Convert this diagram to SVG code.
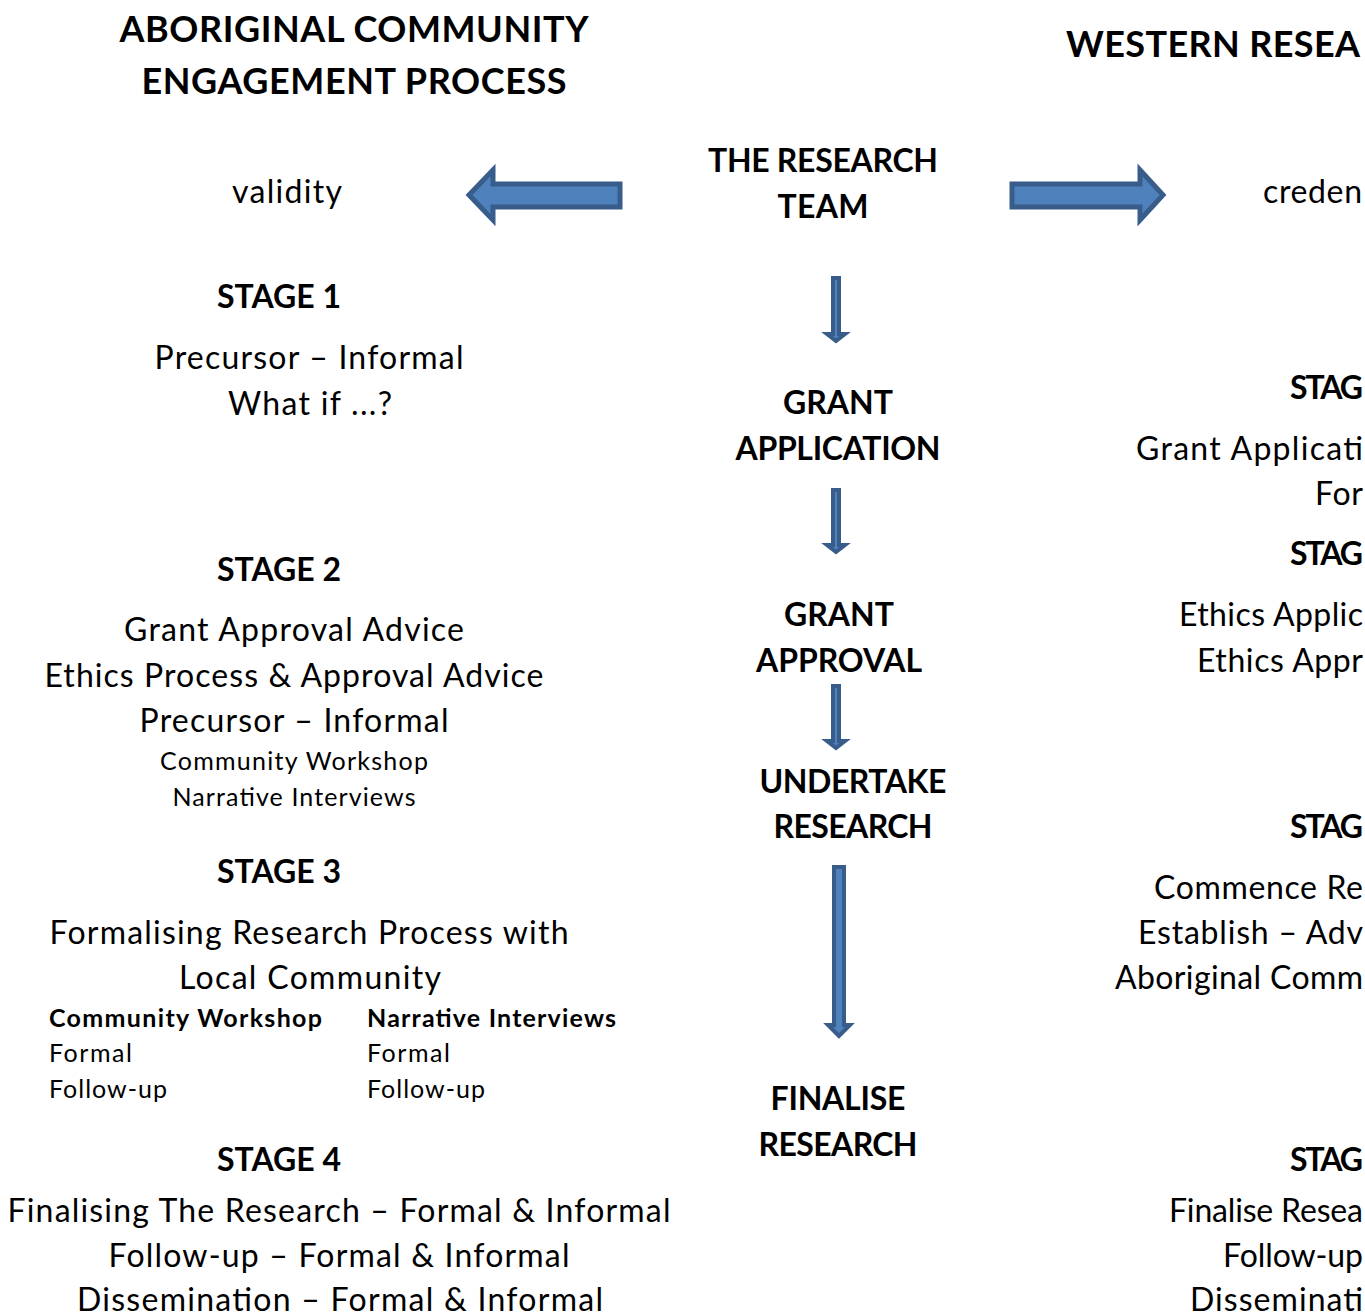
<svg xmlns="http://www.w3.org/2000/svg" width="1365" height="1316" viewBox="0 0 1365 1316">
<style>
text{font-family:Lato,"Open Sans","Liberation Sans",sans-serif;fill:#000}
.t{font-size:36px;font-weight:bold;text-anchor:middle}
.tl{font-size:36px;font-weight:bold}
.h{font-size:32px;font-weight:bold;text-anchor:middle}
.hl{font-size:32px;font-weight:bold}
.b{font-size:32px;text-anchor:middle}
.bl{font-size:32px}
.s{font-size:25px;text-anchor:middle}
.sl{font-size:25px}
.sb{font-size:25px;font-weight:bold}
.arr{fill:#4f81bd;stroke:#385d8a;stroke-width:5;stroke-linejoin:miter}
.arrs{fill:#4f81bd;stroke:#385d8a;stroke-width:4;stroke-linejoin:miter}
</style>
<rect width="1365" height="1316" fill="#fff"/>
<g id="connectors">
<path class="arr" d="M469,195 L493,170 L493,184 L620,184 L620,207 L493,207 L493,220 Z"/>
<path class="arr" d="M1163,195 L1140,170 L1140,184 L1012,184 L1012,207 L1140,207 L1140,220 Z"/>
<path class="arrs" d="M836,341 L827,334 L833,334 L833,278 L839,278 L839,334 L845,334 Z"/>
<path class="arrs" d="M836,552 L827,545 L833,545 L833,490 L839,490 L839,545 L845,545 Z"/>
<path class="arrs" d="M836,748 L827,741 L833,741 L833,686 L839,686 L839,741 L845,741 Z"/>
<path class="arrs" d="M839,1036 L828,1025 L834,1025 L834,867 L844,867 L844,1025 L850,1025 Z"/>
</g>
<g id="title-left">
<text class="t" x="354" y="42" textLength="469">ABORIGINAL COMMUNITY</text>
<text class="t" x="354" y="94" textLength="425">ENGAGEMENT PROCESS</text>
</g>
<g id="title-right">
<text class="tl" x="1066" y="57" textLength="294">WESTERN RESEA</text>
</g>
<g id="validity"><text class="b" x="287" y="203" textLength="110">validity</text></g>
<g id="creden"><text class="bl" x="1263" y="203" textLength="99">creden</text></g>
<g id="research-team">
<text class="h" x="823" y="172" textLength="230">THE RESEARCH</text>
<text class="h" x="823" y="218" textLength="91">TEAM</text>
</g>
<g id="grant-application">
<text class="h" x="838" y="414" textLength="110">GRANT</text>
<text class="h" x="838" y="460" textLength="205">APPLICATION</text>
</g>
<g id="grant-approval">
<text class="h" x="839" y="626" textLength="110">GRANT</text>
<text class="h" x="839" y="672" textLength="166">APPROVAL</text>
</g>
<g id="undertake-research">
<text class="h" x="853" y="793" textLength="187">UNDERTAKE</text>
<text class="h" x="853" y="838" textLength="159">RESEARCH</text>
</g>
<g id="finalise-research">
<text class="h" x="838" y="1110" textLength="135">FINALISE</text>
<text class="h" x="838" y="1156" textLength="159">RESEARCH</text>
</g>
<g id="stage1-left">
<text class="h" x="279" y="308" textLength="124">STAGE 1</text>
<text class="b" x="309" y="369" textLength="309">Precursor – Informal</text>
<text class="b" x="310" y="415" textLength="164">What if ...?</text>
</g>
<g id="stage2-left">
<text class="h" x="279" y="581" textLength="124">STAGE 2</text>
<text class="b" x="294" y="641" textLength="340">Grant Approval Advice</text>
<text class="b" x="294" y="687" textLength="499">Ethics Process &amp; Approval Advice</text>
<text class="b" x="294" y="732" textLength="309">Precursor – Informal</text>
<text class="s" x="294" y="770" textLength="268">Community Workshop</text>
<text class="s" x="294" y="806" textLength="243">Narrative Interviews</text>
</g>
<g id="stage3-left">
<text class="h" x="279" y="883" textLength="124">STAGE 3</text>
<text class="b" x="309" y="944" textLength="519">Formalising Research Process with</text>
<text class="b" x="310" y="989" textLength="262">Local Community</text>
<text class="sb" x="49" y="1027" textLength="273">Community Workshop</text>
<text class="sl" x="49" y="1062" textLength="83">Formal</text>
<text class="sl" x="49" y="1098" textLength="118">Follow-up</text>
<text class="sb" x="367" y="1027" textLength="249">Narrative Interviews</text>
<text class="sl" x="367" y="1062" textLength="83">Formal</text>
<text class="sl" x="367" y="1098" textLength="118">Follow-up</text>
</g>
<g id="stage4-left">
<text class="h" x="279" y="1171" textLength="124">STAGE 4</text>
<text class="b" x="339" y="1222" textLength="663">Finalising The Research – Formal &amp; Informal</text>
<text class="b" x="339" y="1267" textLength="461">Follow-up – Formal &amp; Informal</text>
<text class="b" x="340" y="1311" textLength="526">Dissemination – Formal &amp; Informal</text>
</g>
<g id="stage1-right">
<text class="hl" x="1290" y="399" textLength="73">STAG</text>
<text class="bl" x="1136" y="460" textLength="227">Grant Applicati</text>
<text class="bl" x="1315" y="505" textLength="48">For</text>
</g>
<g id="stage2-right">
<text class="hl" x="1290" y="565" textLength="73">STAG</text>
<text class="bl" x="1179" y="626" textLength="184">Ethics Applic</text>
<text class="bl" x="1197" y="672" textLength="166">Ethics Appr</text>
</g>
<g id="stage3-right">
<text class="hl" x="1290" y="838" textLength="73">STAG</text>
<text class="bl" x="1154" y="899" textLength="209">Commence Re</text>
<text class="bl" x="1138" y="944" textLength="225">Establish – Adv</text>
<text class="bl" x="1115" y="989" textLength="248">Aboriginal Comm</text>
</g>
<g id="stage4-right">
<text class="hl" x="1290" y="1171" textLength="73">STAG</text>
<text class="bl" x="1169" y="1222" textLength="194">Finalise Resea</text>
<text class="bl" x="1223" y="1267" textLength="140">Follow-up</text>
<text class="bl" x="1190" y="1311" textLength="173">Disseminati</text>
</g>
</svg>
